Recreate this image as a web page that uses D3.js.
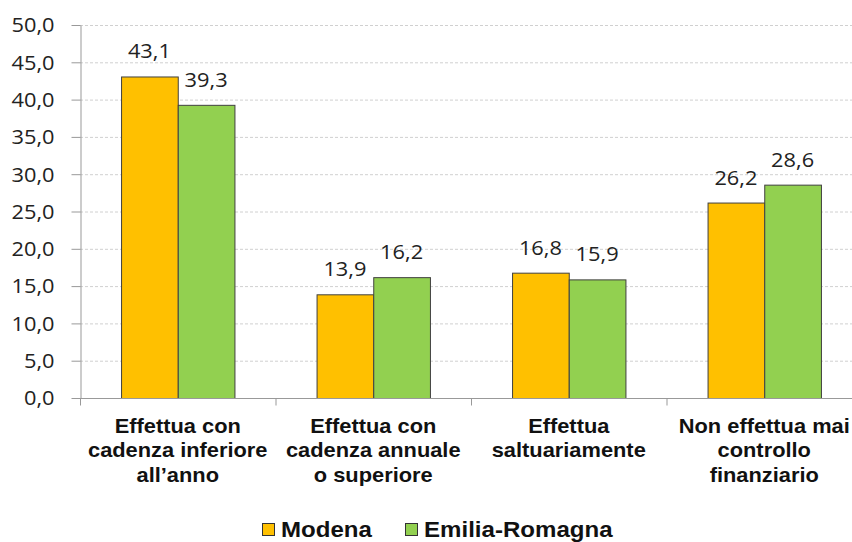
<!DOCTYPE html>
<html><head><meta charset="utf-8">
<script src="https://cdn.jsdelivr.net/npm/d3@7"></script>
<style>body{margin:0;background:#fff}svg{display:block}</style>
</head><body>
<svg id="c" width="852" height="542"></svg>
<script>
const categories = [
  ["Effettua con", "cadenza inferiore", "all’anno"],
  ["Effettua con", "cadenza annuale", "o superiore"],
  ["Effettua", "saltuariamente"],
  ["Non effettua mai", "controllo", "finanziario"]
];
const seriesNames = ["Modena", "Emilia-Romagna"];
const modena = [43.1, 13.9, 16.8, 26.2];
const emilia = [39.3, 16.2, 15.9, 28.6];
const yTicks = [0, 5, 10, 15, 20, 25, 30, 35, 40, 45, 50];
const colors = ["#FFC000", "#92D050"];

const svg = d3.select("#c");
const mLeft = 80, mRight = 862, mTop = 25, mBottom = 398;
const sx = 1.12;
const x = d3.scaleBand().domain(d3.range(categories.length)).range([mLeft, mRight]).paddingInner(0.42).paddingOuter(0.21);
const xs = d3.scaleBand().domain(d3.range(seriesNames.length)).range([0, x.bandwidth()]);
const y = d3.scaleLinear().domain([0, 50]).range([mBottom, mTop]);
const fmt = v => d3.format(".1f")(v).replace(".", ",");

// gridlines
svg.append("g").selectAll("line").data(yTicks.slice(1)).join("line")
  .attr("x1", mLeft).attr("x2", mRight).attr("y1", d => y(d) + 0.5).attr("y2", d => y(d) + 0.5)
  .attr("stroke", "#d0d0d0").attr("stroke-dasharray", "3,2");

// y axis
const ya = svg.append("g").attr("transform", `translate(${mLeft + 0.5},0)`)
  .call(d3.axisLeft(y).tickValues(yTicks).tickFormat(fmt).tickSize(9).tickSizeOuter(0));
ya.select(".domain").attr("stroke", "#999");
ya.selectAll(".tick line").attr("stroke", "#999");
ya.selectAll(".tick text").attr("font-family", "'Open Sans', sans-serif").attr("font-size", 20).attr("fill", "#222")
  .attr("x", 0).attr("dy", "0.34em").attr("transform", "translate(-26,0) scale(1.09,1)");

// bars
const data = categories.map((c, i) => [modena[i], emilia[i]]);
const groups = svg.append("g").selectAll("g").data(data).join("g").attr("transform", (d, i) => `translate(${x(i)},0)`);
groups.selectAll("rect").data(d => d).join("rect")
  .attr("x", (d, j) => xs(j) + 0.5).attr("width", xs.bandwidth())
  .attr("y", d => y(d) + 0.5).attr("height", d => y(0) - y(d))
  .attr("fill", (d, j) => colors[j]).attr("stroke", "#404040").attr("stroke-width", 1);
groups.selectAll("text").data(d => d).join("text")
  .attr("transform", (d, j) => `translate(${xs(j) + xs.bandwidth() / 2},${y(d) - 18}) scale(1.09,1)`)
  .attr("text-anchor", "middle").attr("font-family", "'Open Sans', sans-serif").attr("font-size", 20).attr("fill", "#222")
  .text(fmt);

// x axis
const xa = svg.append("g").attr("transform", `translate(0,${mBottom + 0.5})`);
xa.append("line").attr("x1", mLeft).attr("x2", mRight).attr("stroke", "#999");
const bounds = d3.range(categories.length + 1).map(i => mLeft + i * x.step());
xa.selectAll(".tk").data(bounds).join("line").attr("class", "tk")
  .attr("x1", d => d + 0.5).attr("x2", d => d + 0.5).attr("y1", 0).attr("y2", 7).attr("stroke", "#999");

const labs = svg.append("g").selectAll("text").data(categories).join("text")
  .attr("transform", (d, i) => `translate(${x(i) + x.bandwidth() / 2},432.5) scale(${sx},1)`)
  .attr("text-anchor", "middle").attr("font-family", "'Liberation Sans', Arial, sans-serif")
  .attr("font-weight", "bold").attr("font-size", 19.5).attr("fill", "#111");
labs.selectAll("tspan").data(d => d).join("tspan")
  .attr("x", 0).attr("dy", (d, k) => k === 0 ? 0 : 24.7).text(d => d);

// legend
const legX = [262, 405];
const leg = svg.append("g").selectAll("g").data(seriesNames).join("g").attr("transform", (d, i) => `translate(${legX[i]},523)`);
leg.append("rect").attr("x", 0.5).attr("y", 0.5).attr("width", 12).attr("height", 12).attr("fill", (d, i) => colors[i]).attr("stroke", "#333");
leg.append("text").attr("transform", `translate(19,14) scale(${sx},1)`).attr("font-family", "'Liberation Sans', Arial, sans-serif")
  .attr("font-weight", "bold").attr("font-size", 21.5).attr("fill", "#111").text(d => d);
</script>
</body></html>
